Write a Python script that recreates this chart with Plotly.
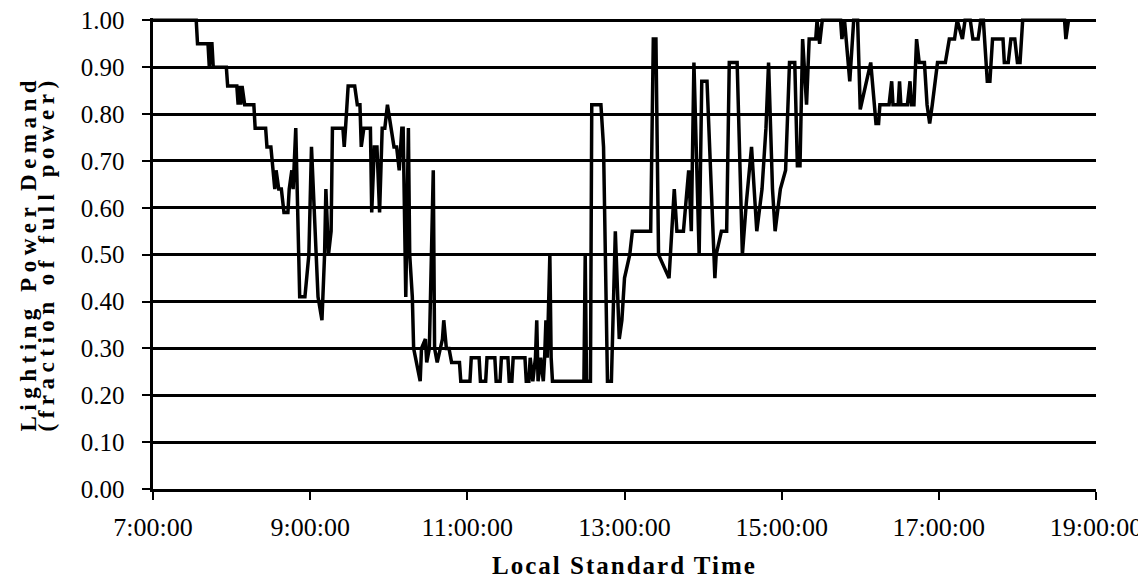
import pandas as pd
import plotly.graph_objects as go

times = ["07:00", "07:33", "07:34", "07:42", "07:43", "07:44", "07:45", "07:46", "07:56", "07:57",
         "08:04", "08:05", "08:06", "08:07", "08:08", "08:10", "08:17", "08:18", "08:26", "08:27",
         "08:30", "08:32", "08:33", "08:34", "08:36", "08:38", "08:40", "08:43", "08:44", "08:46",
         "08:47", "08:49", "08:50", "08:52", "08:56", "08:59", "09:01", "09:03", "09:06", "09:09",
         "09:11", "09:12", "09:14", "09:16", "09:17", "09:25", "09:26", "09:27", "09:29", "09:34",
         "09:36", "09:38", "09:39", "09:41", "09:46", "09:47", "09:49", "09:51", "09:53", "09:55",
         "09:57", "09:59", "10:02", "10:04", "10:06", "10:08", "10:10", "10:11", "10:13", "10:15",
         "10:16", "10:18", "10:19", "10:21", "10:24", "10:25", "10:28", "10:29", "10:31", "10:34",
         "10:35", "10:37", "10:39", "10:41", "10:42", "10:44", "10:46", "10:48", "10:54", "10:55",
         "11:02", "11:03", "11:09", "11:10", "11:14", "11:15", "11:21", "11:22", "11:25", "11:26",
         "11:31", "11:32", "11:34", "11:35", "11:44", "11:45", "11:47", "11:48", "11:50", "11:52",
         "11:53", "11:54", "11:56", "11:58", "11:59", "12:00", "12:01", "12:03", "12:04", "12:05",
         "12:29", "12:30", "12:31", "12:34", "12:35", "12:42", "12:44", "12:46", "12:47", "12:50",
         "12:53", "12:56", "12:58", "13:00", "13:04", "13:06", "13:15", "13:20", "13:22", "13:24",
         "13:26", "13:34", "13:38", "13:40", "13:45", "13:49", "13:51", "13:53", "13:57", "13:59",
         "14:03", "14:09", "14:10", "14:14", "14:18", "14:20", "14:26", "14:30", "14:33", "14:37",
         "14:41", "14:45", "14:48", "14:50", "14:53", "14:55", "14:59", "15:03", "15:06", "15:10",
         "15:12", "15:14", "15:16", "15:19", "15:21", "15:26", "15:27", "15:29", "15:31", "15:45",
         "15:46", "15:48", "15:52", "15:55", "15:58", "16:00", "16:04", "16:08", "16:12", "16:14",
         "16:15", "16:22", "16:24", "16:25", "16:29", "16:30", "16:31", "16:36", "16:38", "16:39",
         "16:41", "16:43", "16:45", "16:49", "16:51", "16:53", "16:55", "16:57", "16:59", "17:05",
         "17:08", "17:12", "17:14", "17:18", "17:20", "17:24", "17:26", "17:30", "17:32", "17:34",
         "17:37", "17:39", "17:41", "17:49", "17:50", "17:53", "17:55", "17:58", "18:00", "18:02",
         "18:04", "18:36", "18:37", "18:39"]

demand = [1.00, 1.00, 0.95, 0.95, 0.90, 0.95, 0.95, 0.90, 0.90, 0.86,
          0.86, 0.82, 0.86, 0.82, 0.86, 0.82, 0.82, 0.77, 0.77, 0.73,
          0.73, 0.68, 0.64, 0.68, 0.64, 0.64, 0.59, 0.59, 0.64, 0.68,
          0.64, 0.77, 0.64, 0.41, 0.41, 0.50, 0.73, 0.59, 0.41, 0.36,
          0.50, 0.64, 0.50, 0.55, 0.77, 0.77, 0.73, 0.77, 0.86, 0.86,
          0.82, 0.82, 0.73, 0.77, 0.77, 0.59, 0.73, 0.73, 0.59, 0.77,
          0.77, 0.82, 0.77, 0.73, 0.73, 0.68, 0.77, 0.77, 0.41, 0.77,
          0.50, 0.41, 0.30, 0.27, 0.23, 0.30, 0.32, 0.27, 0.30, 0.68,
          0.30, 0.27, 0.30, 0.32, 0.36, 0.30, 0.30, 0.27, 0.27, 0.23,
          0.23, 0.28, 0.28, 0.23, 0.23, 0.28, 0.28, 0.23, 0.23, 0.28,
          0.28, 0.23, 0.23, 0.28, 0.28, 0.23, 0.23, 0.28, 0.23, 0.28,
          0.36, 0.23, 0.28, 0.23, 0.28, 0.36, 0.28, 0.50, 0.28, 0.23,
          0.23, 0.50, 0.23, 0.23, 0.82, 0.82, 0.73, 0.40, 0.23, 0.23,
          0.55, 0.32, 0.36, 0.45, 0.50, 0.55, 0.55, 0.55, 0.96, 0.96,
          0.50, 0.45, 0.64, 0.55, 0.55, 0.68, 0.55, 0.91, 0.50, 0.87,
          0.87, 0.45, 0.50, 0.55, 0.55, 0.91, 0.91, 0.50, 0.61, 0.73,
          0.55, 0.64, 0.77, 0.91, 0.64, 0.55, 0.64, 0.68, 0.91, 0.91,
          0.69, 0.69, 0.96, 0.82, 0.96, 0.96, 1.00, 0.95, 1.00, 1.00,
          0.96, 1.00, 0.87, 1.00, 1.00, 0.81, 0.86, 0.91, 0.78, 0.78,
          0.82, 0.82, 0.87, 0.82, 0.82, 0.87, 0.82, 0.82, 0.87, 0.82,
          0.82, 0.96, 0.91, 0.91, 0.82, 0.78, 0.82, 0.86, 0.91, 0.91,
          0.96, 0.96, 1.00, 0.96, 1.00, 1.00, 0.96, 0.96, 1.00, 1.00,
          0.87, 0.87, 0.96, 0.96, 0.91, 0.91, 0.96, 0.96, 0.91, 0.91,
          1.00, 1.00, 0.96, 1.00]

tick_times = ["07:00", "09:00", "11:00", "13:00", "15:00", "17:00", "19:00"]
tick_labels = ["7:00:00", "9:00:00", "11:00:00", "13:00:00", "15:00:00", "17:00:00", "19:00:00"]
y_ticks = [0.0, 0.1, 0.2, 0.3, 0.4, 0.5, 0.6, 0.7, 0.8, 0.9, 1.0]
y_labels = ["0.00", "0.10", "0.20", "0.30", "0.40", "0.50", "0.60", "0.70", "0.80", "0.90", "1.00"]
y_title_lines = ["Lighting Power Demand", "(fraction of full power)"]
x_title = "Local Standard Time"

day = "2000-01-01 "
x = pd.to_datetime([day + t for t in times])
xt = pd.to_datetime([day + t for t in tick_times])

FONT = "Liberation Serif"
NB = "\u00a0"

# the page body adds an 8 px offset; figure coordinates are shifted accordingly
OFF = 8
W, H = 1146 - OFF, 581 - OFF
L, R, T, B = 153 - OFF, 1096 - OFF, 18 - OFF, 489 - OFF

fig = go.Figure()
fig.add_trace(go.Scatter(x=x, y=demand, mode="lines",
                         line=dict(color="black", width=3.5), showlegend=False,
                         cliponaxis=False))

fig.update_layout(
    width=W, height=H,
    margin=dict(l=L, r=W - R, t=T, b=H - B),
    paper_bgcolor="white", plot_bgcolor="white",
    font=dict(family=FONT, color="black", size=22),
    xaxis=dict(
        range=[xt[0], xt[-1]], automargin=False,
        tickvals=list(xt), ticktext=tick_labels,
        showgrid=False, zeroline=False,
        showline=True, linecolor="black", linewidth=3,
        ticks="outside", ticklen=8, tickwidth=2, tickcolor="black",
        tickfont=dict(family=FONT, size=26, color="black"),
        ticklabelstandoff=5, ticklabeloverflow="allow",
        title=dict(text='<b><span style="letter-spacing:2px">' + x_title + '</span></b>',
                   font=dict(family=FONT, size=25, color="black"), standoff=16),
    ),
    yaxis=dict(
        range=[0, 1.005], automargin=False,
        tickvals=y_ticks, ticktext=[s + NB * 2 for s in y_labels],
        showgrid=True, gridcolor="black", gridwidth=2.5,
        zeroline=False,
        showline=True, linecolor="black", linewidth=3,
        ticks="outside", ticklen=8, tickwidth=2, tickcolor="black",
        tickfont=dict(family=FONT, size=25, color="black"),
        ticklabeloverflow="allow",
    ),
)

for px_x, line_text in zip([28 - OFF, 46 - OFF], y_title_lines):
    fig.add_annotation(
        xref="paper", yref="paper",
        x=(px_x - L) / (R - L), y=0.5,
        xanchor="center", yanchor="middle",
        textangle=-90, showarrow=False,
        text='<b><span style="letter-spacing:5.5px">' + line_text + '</span></b>',
        font=dict(family=FONT, size=23, color="black"),
    )

fig.write_html("out.html")
